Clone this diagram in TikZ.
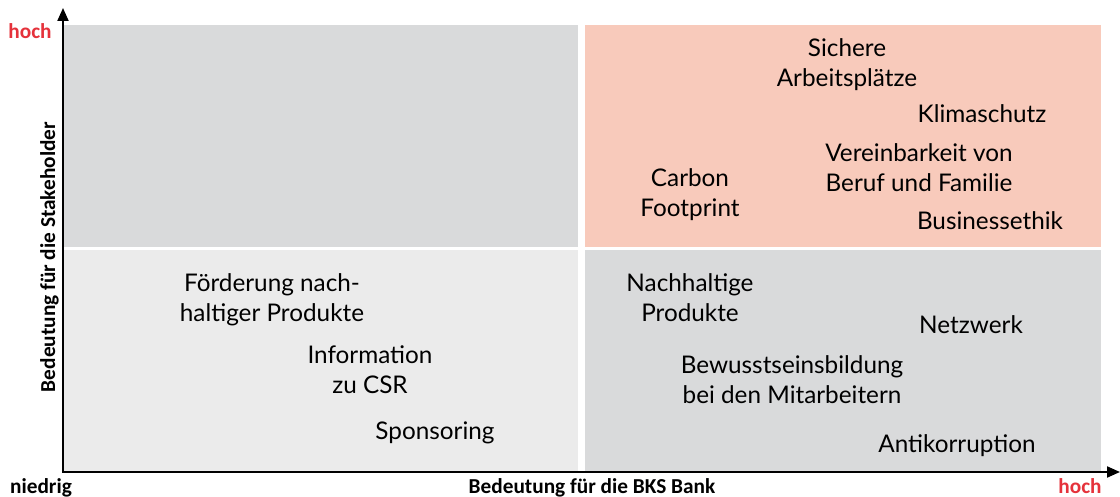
\documentclass[tikz,border=0pt]{standalone}
\usepackage{fontspec}
\setmainfont{Lato}
\newfontfamily\axisfont{Carlito}
\usetikzlibrary{arrows.meta}
\definecolor{quadgray}{HTML}{D9DADB}
\definecolor{quadlight}{HTML}{EBEBEB}
\definecolor{quadpink}{HTML}{F8CABB}
\definecolor{hochred}{HTML}{E5323B}
\tikzset{
  item/.style={anchor=base, align=center, inner sep=0pt, font=\fontsize{24.3}{30}\selectfont, text=black},
  axislabel/.style={anchor=base, inner sep=0pt, font=\axisfont\bfseries\fontsize{21.3}{24}\selectfont, text=black},
  redlabel/.style={axislabel, text=hochred},
  axisline/.style={line width=2pt, -{Triangle[length=13pt,width=11pt]}}
}
\begin{document}
\begin{tikzpicture}[x=1pt,y=-1pt]
\useasboundingbox (0,0) rectangle (1120,497);
\fill[white] (0,0) rectangle (1120,497);
% quadrants
\fill[quadgray]  (63,25)  rectangle (578,247);
\fill[quadpink]  (585,25) rectangle (1101,247);
\fill[quadlight] (63,250) rectangle (578,471);
\fill[quadgray]  (585,250) rectangle (1101,471);
% axes
\coordinate (origin) at (63,472);
\coordinate (ytip) at (63,8);
\coordinate (xtip) at (1120,472);
\draw[axisline] ([yshift=1pt]origin) -- (ytip);
\draw[axisline] ([xshift=-1pt]origin) -- (xtip);
% axis labels
\node[redlabel] (yhoch) at (30,39) {hoch};
\node[redlabel] (xhoch) at (1080,493) {hoch};
\node[axislabel] (niedrig) at (41,493) {niedrig};
\node[axislabel] (xlabel) at (592,493) {Bedeutung für die BKS Bank};
\node[axislabel, rotate=90] (ylabel) at (55,257) {Bedeutung für die Stakeholder};
% items (base anchor = baseline of last line)
\node[item] (sichere) at (847,87) {Sichere\\Arbeitsplätze};
\node[item] (klima) at (982,123) {Klimaschutz};
\node[item] (verein) at (919,192) {Vereinbarkeit von\\Beruf und Familie};
\node[item] (carbon) at (690,217) {Carbon\\Footprint};
\node[item] (business) at (990,230) {Businessethik};
\node[item] (foerderung) at (272,322) {Förderung nach-\\haltiger Produkte};
\node[item] (info) at (370,393) {Information\\zu CSR};
\node[item] (sponsoring) at (435,439) {Sponsoring};
\node[item] (nachhaltig) at (690,322) {Nachhaltige\\Produkte};
\node[item] (netzwerk) at (971,334) {Netzwerk};
\node[item] (bewusst) at (792,403) {Bewusstseinsbildung\\bei den Mitarbeitern};
\node[item] (anti) at (957,452) {Antikorruption};
\end{tikzpicture}
\end{document}
